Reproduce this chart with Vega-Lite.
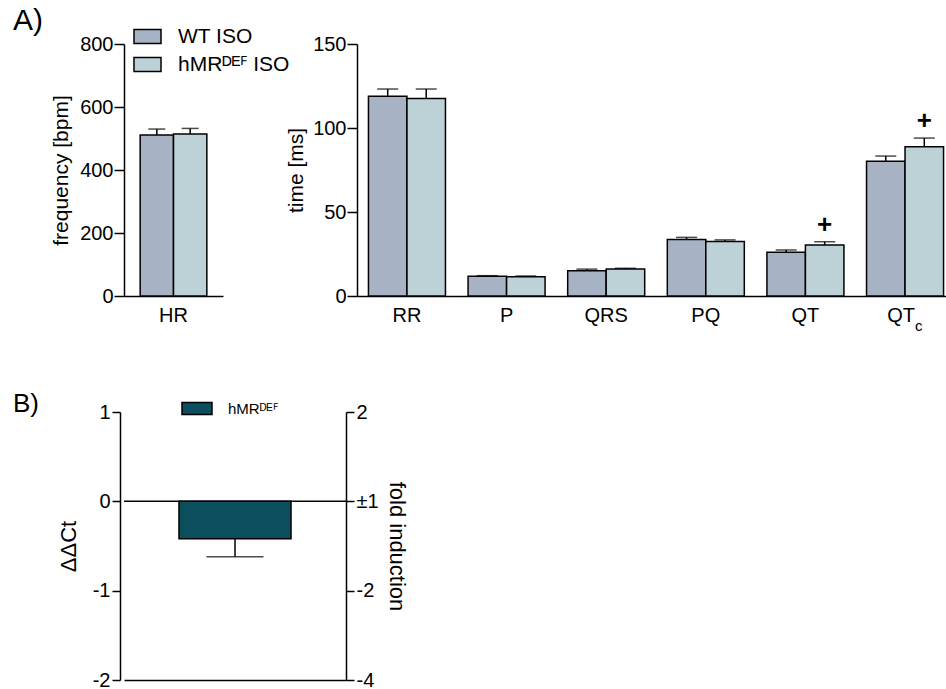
{
  "$schema": "https://vega.github.io/schema/vega-lite/v6.json",
  "padding": {"left": 13, "top": 6, "right": 0, "bottom": 0},
  "bounds": "flush",
  "spacing": 368,
  "config": {
    "view": {"stroke": null},
    "font": "Liberation Sans",
    "axis": {"domainColor": "black", "domainWidth": 1.5, "tickColor": "black", "tickWidth": 1.5, "labelColor": "black", "titleColor": "black", "labelFontSize": 19, "titleFontSize": 21, "titleFontWeight": "normal", "grid": false, "tickSize": 8, "labelPadding": 2, "titlePadding": 6},
    "legend": {"labelColor": "black", "symbolStrokeColor": "black", "symbolStrokeWidth": 1.5}
  },
  "resolve": {"scale": {"fill": "independent"}, "legend": {"fill": "independent"}},
  "vconcat": [
    {
      "bounds": "flush",
      "spacing": 134,
      "resolve": {"scale": {"xOffset": "independent"}},
      "hconcat": [
        {
          "width": 99,
          "height": 252,
          "title": {"text": "A)", "anchor": "start", "frame": "group", "fontSize": 30, "fontWeight": "normal", "dx": -111, "dy": 35, "offset": 9, "baseline": "alphabetic", "color": "black"},
          "data": {"values": [
            {"param": "HR", "genotype": "WT ISO", "mean": 511, "hi": 530},
            {"param": "HR", "genotype": "hMRᴰᴱꟳ ISO", "mean": 514, "hi": 532}
          ]},
          "encoding": {
            "x": {"field": "param", "type": "nominal", "scale": {"paddingInner": 0, "paddingOuter": 0.2424}, "axis": {"title": null, "ticks": false, "tickSize": 0, "labelAngle": 0, "labelFontSize": 20, "labelPadding": 9}},
            "xOffset": {"field": "genotype", "type": "nominal", "sort": ["WT ISO", "hMRᴰᴱꟳ ISO"]}
          },
          "layer": [
            {
              "mark": {"type": "bar", "stroke": "black", "strokeWidth": 1.5},
              "encoding": {
                "y": {"field": "mean", "type": "quantitative", "scale": {"domain": [0, 800], "nice": false}, "axis": {"values": [0, 200, 400, 600, 800], "title": "frequency [bpm]", "labelFontSize": 20, "tickSize": 10, "labelPadding": 1, "titlePadding": 8}},
                "fill": {"field": "genotype", "type": "nominal", "scale": {"domain": ["WT ISO", "hMRᴰᴱꟳ ISO"], "range": ["#a7b3c4", "#bcd2d6"]},
                  "legend": {"orient": "none", "legendX": 9, "legendY": -22, "title": null, "symbolType": "M-1,-0.52H1V0.52H-1Z", "symbolSize": 729, "labelFontSize": 21, "labelOffset": 16, "rowPadding": 3}}
              }
            },
            {
              "mark": {"type": "rule", "color": "black", "strokeWidth": 1.5},
              "encoding": {"y": {"field": "mean", "type": "quantitative"}, "y2": {"field": "hi"}}
            },
            {
              "mark": {"type": "tick", "color": "black", "thickness": 1.5, "size": 17},
              "encoding": {"y": {"field": "hi", "type": "quantitative"}}
            }
          ]
        },
        {
          "width": 598,
          "height": 252,
          "layer": [
            {
              "data": {"values": [
                {"param": "RR", "genotype": "WT ISO", "mean": 118.9, "hi": 123.2, "sig": ""},
                {"param": "RR", "genotype": "hMRᴰᴱꟳ ISO", "mean": 117.6, "hi": 123.2, "sig": ""},
                {"param": "P", "genotype": "WT ISO", "mean": 11.7, "hi": 12.1, "sig": ""},
                {"param": "P", "genotype": "hMRᴰᴱꟳ ISO", "mean": 11.5, "hi": 11.9, "sig": ""},
                {"param": "QRS", "genotype": "WT ISO", "mean": 15.1, "hi": 16.0, "sig": ""},
                {"param": "QRS", "genotype": "hMRᴰᴱꟳ ISO", "mean": 16.0, "hi": 16.5, "sig": ""},
                {"param": "PQ", "genotype": "WT ISO", "mean": 33.7, "hi": 34.9, "sig": ""},
                {"param": "PQ", "genotype": "hMRᴰᴱꟳ ISO", "mean": 32.5, "hi": 33.4, "sig": ""},
                {"param": "QT", "genotype": "WT ISO", "mean": 26.0, "hi": 27.4, "sig": ""},
                {"param": "QT", "genotype": "hMRᴰᴱꟳ ISO", "mean": 30.4, "hi": 32.3, "sig": "+"},
                {"param": "QTc", "genotype": "WT ISO", "mean": 80.2, "hi": 83.3, "sig": ""},
                {"param": "QTc", "genotype": "hMRᴰᴱꟳ ISO", "mean": 88.9, "hi": 94.0, "sig": "+"}
              ]},
              "encoding": {
                "x": {"field": "param", "type": "nominal", "sort": ["RR", "P", "QRS", "PQ", "QT", "QTc"], "scale": {"paddingInner": 0.227, "paddingOuter": 0.115},
                  "axis": {"title": null, "ticks": false, "tickSize": 0, "labelAngle": 0, "labelFontSize": 20, "labelPadding": 9, "labelExpr": "datum.value == 'QTc' ? 'QT' : datum.label", "labelOffset": {"condition": {"test": "datum.value == 'QTc'", "value": -4}, "value": 0}}},
                "xOffset": {"field": "genotype", "type": "nominal", "sort": ["WT ISO", "hMRᴰᴱꟳ ISO"]}
              },
              "layer": [
                {
                  "mark": {"type": "bar", "stroke": "black", "strokeWidth": 1.5},
                  "encoding": {
                    "y": {"field": "mean", "type": "quantitative", "scale": {"domain": [0, 150], "nice": false}, "axis": {"values": [0, 50, 100, 150], "title": "time [ms]", "labelFontSize": 20, "tickSize": 10, "labelPadding": 1, "titlePadding": 6}},
                    "fill": {"field": "genotype", "type": "nominal", "scale": {"domain": ["WT ISO", "hMRᴰᴱꟳ ISO"], "range": ["#a7b3c4", "#bcd2d6"]},
                      "legend": {"orient": "none", "legendX": 9, "legendY": -22, "title": null, "symbolType": "M-1,-0.52H1V0.52H-1Z", "symbolSize": 729, "labelFontSize": 21, "labelOffset": 16, "rowPadding": 3}}
                  }
                },
                {
                  "mark": {"type": "rule", "color": "black", "strokeWidth": 1.5},
                  "encoding": {"y": {"field": "mean", "type": "quantitative"}, "y2": {"field": "hi"}}
                },
                {
                  "mark": {"type": "tick", "color": "black", "thickness": 1.5, "size": 21},
                  "encoding": {"y": {"field": "hi", "type": "quantitative"}}
                },
                {
                  "transform": [{"filter": "datum.sig != ''"}],
                  "mark": {"type": "text", "fontSize": 26, "fontWeight": "bold", "baseline": "middle", "dy": -17, "color": "black"},
                  "encoding": {"y": {"field": "hi", "type": "quantitative"}, "text": {"field": "sig"}}
                }
              ]
            },
            {
              "data": {"values": [{"param": "QTc", "sub": "c"}]},
              "mark": {"type": "text", "fontSize": 15, "align": "left", "baseline": "alphabetic", "dx": 10, "dy": 35, "color": "black"},
              "encoding": {
                "x": {"field": "param", "type": "nominal", "sort": ["RR", "P", "QRS", "PQ", "QT", "QTc"]},
                "y": {"datum": 0},
                "text": {"field": "sub"}
              }
            }
          ]
        }
      ]
    },
    {
      "width": 222,
      "height": 268,
      "title": {"text": "B)", "anchor": "start", "frame": "group", "fontSize": 26, "fontWeight": "normal", "dx": -111, "dy": 45, "offset": 0, "baseline": "alphabetic", "color": "black"},
      "data": {"values": [{"gene": "hMRᴰᴱꟳ", "mean": -0.42, "lo": -0.62}]},
      "resolve": {"scale": {"y": "independent"}},
      "layer": [
        {
          "encoding": {"x": {"field": "gene", "type": "nominal", "axis": {"title": null, "labels": false, "ticks": false, "tickSize": 0}}},
          "layer": [
            {
              "mark": {"type": "bar", "size": 112, "stroke": "black", "strokeWidth": 1.5},
              "encoding": {
                "y": {"field": "mean", "type": "quantitative", "scale": {"domain": [-2, 1], "nice": false, "zero": false}, "axis": {"values": [-2, -1, 0, 1], "title": "ΔΔCt", "offset": 4, "labelFontSize": 20, "titleFontSize": 22, "titlePadding": 12, "labelExpr": "datum.value < 0 ? '-' + (-datum.value) : '' + datum.value"}},
                "fill": {"field": "gene", "type": "nominal", "scale": {"range": ["#0b4f5f"]},
                  "legend": {"orient": "none", "legendX": 57, "legendY": -19.5, "title": null, "symbolType": "M-1,-0.4H1V0.4H-1Z", "symbolSize": 900, "labelFontSize": 15, "labelOffset": 15}}
              }
            },
            {
              "mark": {"type": "rule", "color": "black", "strokeWidth": 1.5},
              "encoding": {"y": {"field": "mean", "type": "quantitative"}, "y2": {"field": "lo"}}
            },
            {
              "mark": {"type": "tick", "color": "black", "thickness": 1.5, "size": 57},
              "encoding": {"y": {"field": "lo", "type": "quantitative"}}
            }
          ]
        },
        {
          "mark": {"type": "rule", "color": "black", "strokeWidth": 1.5},
          "encoding": {
            "y": {"datum": 0, "type": "quantitative", "scale": {"domain": [-2, 1], "nice": false, "zero": false},
              "axis": {"orient": "right", "values": [-2, -1, 0, 1], "title": "fold induction", "labelFontSize": 20, "titleFontSize": 22,
                "labelExpr": "datum.value == 0 ? '±1' : (datum.value > 0 ? '' + pow(2, datum.value) : '-' + pow(2, -datum.value))"}}
          }
        }
      ]
    }
  ]
}
